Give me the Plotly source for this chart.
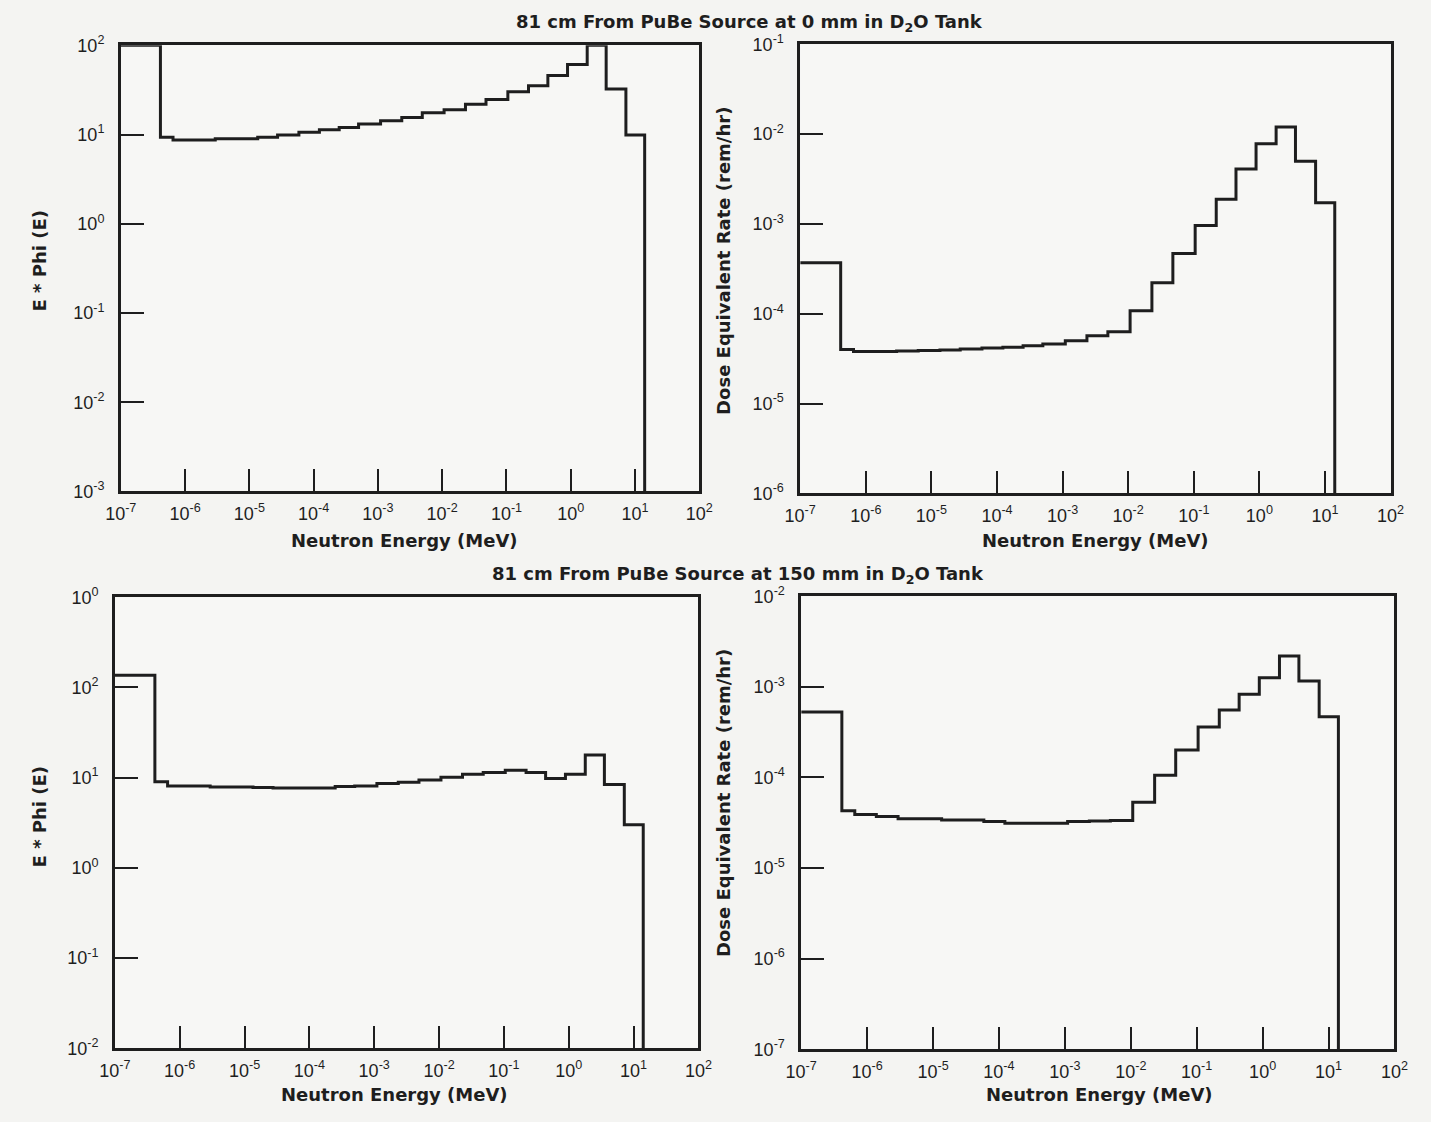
import plotly.graph_objects as go

# Energy group boundaries (MeV)
edges_mev = [1.0e-7, 4.14e-7, 6.5e-7, 1.38e-6, 2.95e-6, 6.3e-6, 1.35e-5, 2.75e-5, 5.9e-5,
             1.23e-4, 2.5e-4, 5.0e-4, 1.1e-3, 2.35e-3, 4.9e-3, 1.07e-2, 2.3e-2, 4.8e-2,
             0.105, 0.22, 0.44, 0.89, 1.8, 3.55, 7.2, 14.1]

# 0 mm: E*Phi(E)
ephi_0mm = [100, 9.3, 8.7, 8.7, 9.0, 9.0, 9.3, 9.9, 10.6, 11.3, 12.0, 13.1, 14.3, 15.5,
            17.5, 19.0, 21.9, 24.7, 30.2, 35.2, 46.0, 60.8, 100, 32.3, 9.9]
# 0 mm: dose equivalent rate (rem/hr)
dose_0mm = [3.7e-4, 4.0e-5, 3.8e-5, 3.8e-5, 3.85e-5, 3.9e-5, 3.95e-5, 4.05e-5, 4.15e-5,
            4.25e-5, 4.4e-5, 4.6e-5, 5.0e-5, 5.7e-5, 6.3e-5, 1.08e-4, 2.22e-4, 4.7e-4,
            9.6e-4, 1.88e-3, 4.1e-3, 7.8e-3, 1.2e-2, 5.0e-3, 1.72e-3]
# 150 mm: E*Phi(E)
ephi_150mm = [137, 9.0, 8.1, 8.1, 7.9, 7.9, 7.8, 7.7, 7.7, 7.7, 8.0, 8.1, 8.6, 8.9, 9.4,
              10.1, 10.9, 11.4, 12.1, 11.4, 9.8, 10.9, 17.9, 8.4, 3.0]
# 150 mm: dose equivalent rate (rem/hr)
dose_150mm = [5.3e-4, 4.3e-5, 3.9e-5, 3.7e-5, 3.5e-5, 3.5e-5, 3.4e-5, 3.4e-5, 3.27e-5,
              3.13e-5, 3.13e-5, 3.13e-5, 3.27e-5, 3.3e-5, 3.36e-5, 5.33e-5, 1.06e-4,
              2.01e-4, 3.6e-4, 5.55e-4, 8.3e-4, 1.26e-3, 2.2e-3, 1.16e-3, 4.67e-4]

x_tickvals = [1e-7, 1e-6, 1e-5, 1e-4, 1e-3, 1e-2, 1e-1, 1e0, 1e1, 1e2]
x_ticktext = ["10<sup>-7</sup>", "10<sup>-6</sup>", "10<sup>-5</sup>", "10<sup>-4</sup>",
              "10<sup>-3</sup>", "10<sup>-2</sup>", "10<sup>-1</sup>", "10<sup>0</sup>",
              "10<sup>1</sup>", "10<sup>2</sup>"]

y1_tickvals = [1e-3, 1e-2, 1e-1, 1e0, 1e1, 1e2]
y1_ticktext = ["10<sup>-3</sup>", "10<sup>-2</sup>", "10<sup>-1</sup>", "10<sup>0</sup>",
               "10<sup>1</sup>", "10<sup>2</sup>"]
y2_tickvals = [1e-6, 1e-5, 1e-4, 1e-3, 1e-2, 1e-1]
y2_ticktext = ["10<sup>-6</sup>", "10<sup>-5</sup>", "10<sup>-4</sup>", "10<sup>-3</sup>",
               "10<sup>-2</sup>", "10<sup>-1</sup>"]
y3_tickvals = [1e-2, 1e-1, 1e0, 1e1, 1e2, 1e3]
y3_ticktext = ["10<sup>-2</sup>", "10<sup>-1</sup>", "10<sup>0</sup>", "10<sup>1</sup>",
               "10<sup>2</sup>", "10<sup>0</sup>"]
y4_tickvals = [1e-7, 1e-6, 1e-5, 1e-4, 1e-3, 1e-2]
y4_ticktext = ["10<sup>-7</sup>", "10<sup>-6</sup>", "10<sup>-5</sup>", "10<sup>-4</sup>",
               "10<sup>-3</sup>", "10<sup>-2</sup>"]

title_top = "81 cm From PuBe Source at 0 mm in D<sub>2</sub>O Tank"
title_bottom = "81 cm From PuBe Source at 150 mm in D<sub>2</sub>O Tank"
xlabel = "Neutron Energy (MeV)"
ylabel_phi = "E * Phi (E)"
ylabel_dose = "Dose Equivalent Rate (rem/hr)"

# page body has an 8px default margin, so the figure is offset by 8px
OFF = 8
W, H = 1439 - OFF, 1130 - OFF
INK = "#1e1e1e"
FONT = "Liberation Sans, Arial, sans-serif"
TFONT = "DejaVu Sans, Liberation Sans, sans-serif"


def step_trace(values, ymin, xa, ya):
    xs = list(edges_mev) + [edges_mev[-1]]
    ys = list(values) + [values[-1], ymin]
    return go.Scatter(x=xs, y=ys, mode="lines", line=dict(shape="hv", color=INK, width=3),
                      xaxis=xa, yaxis=ya, showlegend=False, hoverinfo="skip")


fig = go.Figure()
fig.add_trace(step_trace(ephi_0mm, 1e-3, "x", "y"))
fig.add_trace(step_trace(dose_0mm, 1e-6, "x2", "y2"))
fig.add_trace(step_trace(ephi_150mm, 1e-2, "x3", "y3"))
fig.add_trace(step_trace(dose_150mm, 1e-7, "x4", "y4"))


def px(x):
    return (x - OFF) / W


def py(y):
    return 1 - (y - OFF) / H


def xaxis(a, b, anchor):
    return dict(type="log", range=[-7, 2], domain=[px(a), px(b)], anchor=anchor,
                tickvals=x_tickvals, ticktext=x_ticktext, ticks="inside", ticklen=23,
                tickwidth=2, tickcolor=INK, showline=True, linewidth=2.5, linecolor=INK,
                mirror=True, showgrid=False, zeroline=False, ticklabelstandoff=4,
                tickfont=dict(family=FONT, size=18, color=INK))


def yaxis(top, bottom, anchor, rng, tv, tt):
    return dict(type="log", range=rng, domain=[py(bottom), py(top)], anchor=anchor,
                tickvals=tv, ticktext=tt, ticks="inside", ticklen=23, tickwidth=2,
                tickcolor=INK, showline=True, linewidth=2.5, linecolor=INK, mirror=True,
                showgrid=False, zeroline=False, ticklabelstandoff=10,
                tickfont=dict(family=FONT, size=18, color=INK))


fig.update_layout(
    width=W, height=H,
    margin=dict(l=0, r=0, t=0, b=0),
    paper_bgcolor="#f4f4f2", plot_bgcolor="#f7f7f5",
    xaxis=xaxis(115, 706, "y"),
    yaxis=yaxis(42, 497, "x", [-3, 2], y1_tickvals, y1_ticktext),
    xaxis2=xaxis(809, 1412, "y2"),
    yaxis2=yaxis(41, 499, "x2", [-6, -1], y2_tickvals, y2_ticktext),
    xaxis3=xaxis(109, 705, "y3"),
    yaxis3=yaxis(605, 1065, "x3", [-2, 3], y3_tickvals, y3_ticktext),
    xaxis4=xaxis(810, 1416, "y4"),
    yaxis4=yaxis(604, 1066, "x4", [-7, -2], y4_tickvals, y4_ticktext),
)

ann_font = dict(family=TFONT, size=18, color=INK)
anns = [
    (title_top, 757, 19, 0),
    (title_bottom, 745, 582, 0),
    (xlabel, 405, 547, 0),
    (xlabel, 1111, 547, 0),
    (xlabel, 395, 1112, 0),
    (xlabel, 1115, 1112, 0),
    (ylabel_phi, 32, 262, -90),
    (ylabel_phi, 32, 829, -90),
    (ylabel_dose, 730, 262, -90),
    (ylabel_dose, 730, 815, -90),
]
for text, x, y, ang in anns:
    fig.add_annotation(text="<b>" + text + "</b>", x=px(x), y=py(y), xref="paper",
                       yref="paper", showarrow=False, textangle=ang, font=ann_font,
                       xanchor="center", yanchor="middle")

fig.write_html("out.html")
